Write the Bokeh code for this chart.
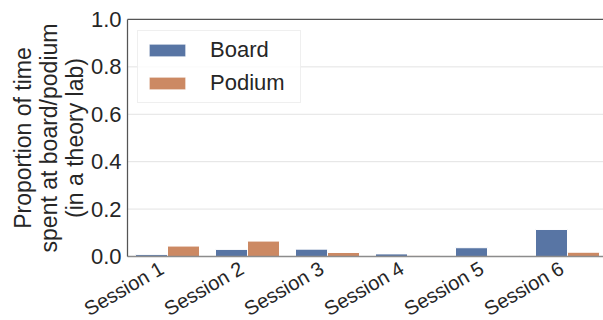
from bokeh.plotting import figure
from bokeh.models import (ColumnDataSource, FixedTicker, Range1d, Legend,
                          LegendItem, CustomJSTickFormatter)
from bokeh.transform import dodge
from bokeh.embed import file_html
from bokeh.resources import INLINE

# Time spent at board / podium per session (theory lab)
sessions = ["Session 1", "Session 2", "Session 3", "Session 4", "Session 5", "Session 6"]
board = [0.008, 0.030, 0.031, 0.011, 0.037, 0.114]
podium = [0.044, 0.065, 0.017, 0.003, 0.004, 0.018]
y_ticks = [0.0, 0.2, 0.4, 0.6, 0.8, 1.0]

BLUE = "#5875a4"
ORANGE = "#cc8963"
FONT = "Liberation Sans"
TEXT = "#262626"
SPINE = "#555555"
GRID = "#e3e3e3"

X0, X1 = -0.5, 5.45   # data extent of the bar area

src = ColumnDataSource(dict(x=list(range(len(sessions))), board=board, podium=podium))

# The frame fills the whole canvas; both axes are pinned inside it so that the
# rotated session names and the y label have room around the bar area.
p = figure(width=603, height=320, output_backend="svg", toolbar_location=None,
           x_range=Range1d(-2.0875, X1), y_range=Range1d(-0.27, 1.08),
           min_border_left=0, min_border_right=0, min_border_top=0,
           min_border_bottom=0)
p.outline_line_color = None
p.background_fill_color = "white"
p.border_fill_color = "white"
p.xgrid.grid_line_color = None
p.ygrid.grid_line_color = None

# horizontal grid lines at the y ticks (above zero) and the top spine
grid_y = y_ticks[1:-1]
p.segment(x0=[X0] * len(grid_y), x1=[X1] * len(grid_y), y0=grid_y, y1=grid_y,
          line_color=GRID, line_width=1)
p.segment(x0=[X0], x1=[X1], y0=[y_ticks[-1]], y1=[y_ticks[-1]],
          line_color=SPINE, line_width=1.25)

rb = p.vbar(x=dodge("x", -0.2, range=p.x_range), top="board", width=0.4, source=src,
            fill_color=BLUE, line_color="white", line_width=1)
rp = p.vbar(x=dodge("x", 0.2, range=p.x_range), top="podium", width=0.4, source=src,
            fill_color=ORANGE, line_color="white", line_width=1)

# x axis: session names, rotated, hanging below the baseline
p.xaxis.fixed_location = 0
p.xaxis.bounds = (X0, X1)
p.xaxis.ticker = FixedTicker(ticks=[i - 0.07 for i in range(len(sessions))])
p.xaxis.formatter = CustomJSTickFormatter(args=dict(names=sessions),
                                          code="return names[Math.round(tick)];")
p.xaxis.major_label_orientation = 0.5236
p.xaxis.major_label_text_font_size = "20px"
p.xaxis.major_label_standoff = 10
p.xaxis.axis_line_color = "#8c8c8c"
p.xaxis.axis_line_width = 1.5

# y axis
p.yaxis.fixed_location = X0
p.yaxis.bounds = (y_ticks[0], y_ticks[-1])
p.yaxis.ticker = FixedTicker(ticks=y_ticks)
p.yaxis.formatter = CustomJSTickFormatter(code="return tick.toFixed(1);")
p.yaxis.major_label_text_font_size = "22px"
p.yaxis.axis_line_color = SPINE
p.yaxis.axis_line_width = 1.25
p.yaxis.major_label_standoff = 6
p.yaxis.axis_label = "Proportion of time\nspent at board/podium\n(in a theory lab)"
p.yaxis.axis_label_standoff = 0
p.yaxis.axis_label_text_line_height = 1.0

for ax in (p.xaxis, p.yaxis):
    ax.major_tick_line_color = None
    ax.major_tick_out = 0
    ax.major_tick_in = 0
    ax.minor_tick_line_color = None
    ax.minor_tick_out = 0
    ax.minor_tick_in = 0
    ax.major_label_text_font = FONT
    ax.major_label_text_color = TEXT
    ax.axis_label_text_font = FONT
    ax.axis_label_text_font_size = "23px"
    ax.axis_label_text_font_style = "normal"
    ax.axis_label_text_color = TEXT

legend = Legend(items=[LegendItem(label="Board", renderers=[rb]),
                       LegendItem(label="Podium", renderers=[rp])],
                location=(137, 217))
legend.margin = 0
legend.padding = 6
legend.spacing = 7
legend.glyph_width = 46
legend.glyph_height = 16
legend.label_standoff = 20
legend.label_width = 84
legend.label_text_font = FONT
legend.label_text_font_size = "22px"
legend.label_text_color = TEXT
legend.border_line_color = "#e0e0e0"
legend.border_line_width = 1
legend.background_fill_alpha = 0.8
p.add_layout(legend)

open("out.html", "w").write(file_html(p, INLINE))
